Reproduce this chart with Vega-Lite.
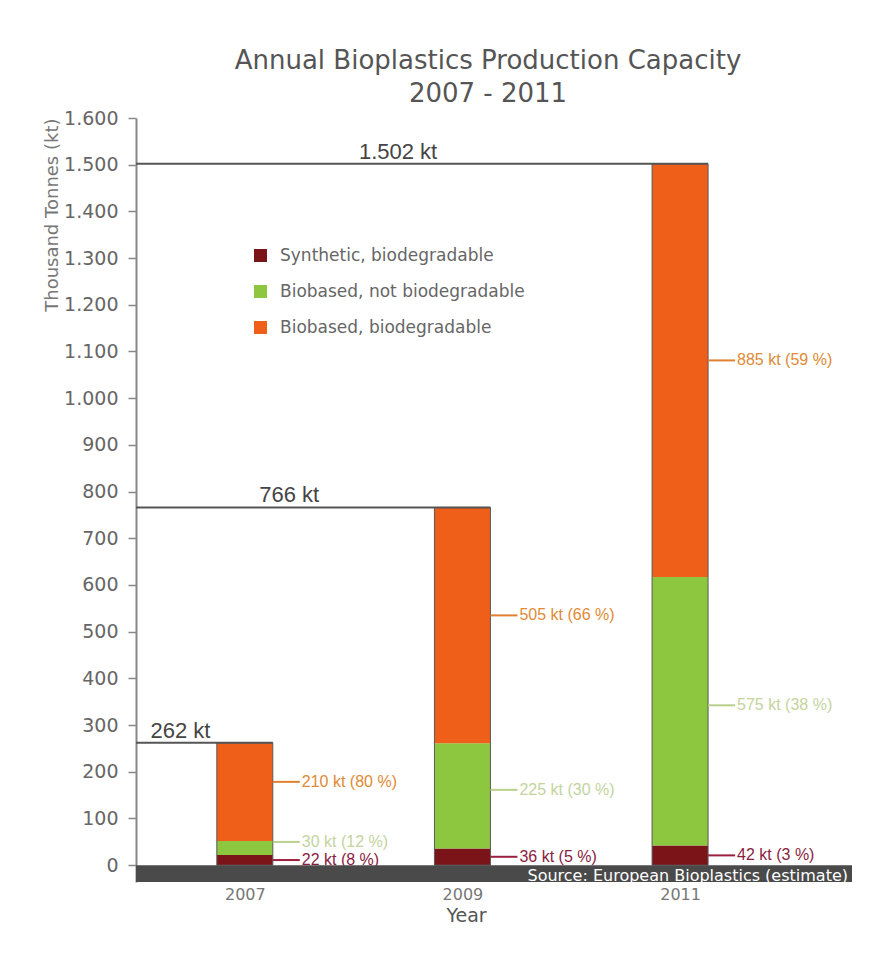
{
  "$schema": "https://vega.github.io/schema/vega-lite/v6.json",
  "width": 716,
  "height": 764,
  "autosize": {"type": "none"},
  "padding": {"left": 136, "top": 118, "right": 26, "bottom": 81},
  "background": "white",
  "title": {
    "text": ["Annual Bioplastics Production Capacity", "2007 - 2011"],
    "font": "DejaVu Sans",
    "fontSize": 26,
    "fontWeight": "normal",
    "color": "#555555",
    "lineHeight": 33,
    "anchor": "middle",
    "dx": -6,
    "offset": 2,
    "frame": "group"
  },
  "config": {
    "view": {"stroke": null},
    "legend": {
      "orient": "none",
      "legendX": 116,
      "legendY": 129,
      "symbolType": "square",
      "symbolSize": 169,
      "symbolStrokeWidth": 0,
      "labelFont": "DejaVu Sans",
      "labelFontSize": 17,
      "labelColor": "#666666",
      "labelOffset": 11,
      "labelLimit": 0,
      "rowPadding": 18,
      "padding": 0
    }
  },
  "datasets": {
    "segments": [
      {"year": 2007, "category": "Synthetic, biodegradable", "value": 22, "label": "22 kt (8 %)"},
      {"year": 2007, "category": "Biobased, not biodegradable", "value": 30, "label": "30 kt (12 %)"},
      {"year": 2007, "category": "Biobased, biodegradable", "value": 210, "label": "210 kt (80 %)"},
      {"year": 2009, "category": "Synthetic, biodegradable", "value": 36, "label": "36 kt (5 %)"},
      {"year": 2009, "category": "Biobased, not biodegradable", "value": 225, "label": "225 kt (30 %)"},
      {"year": 2009, "category": "Biobased, biodegradable", "value": 505, "label": "505 kt (66 %)"},
      {"year": 2011, "category": "Synthetic, biodegradable", "value": 42, "label": "42 kt (3 %)"},
      {"year": 2011, "category": "Biobased, not biodegradable", "value": 575, "label": "575 kt (38 %)"},
      {"year": 2011, "category": "Biobased, biodegradable", "value": 885, "label": "885 kt (59 %)"}
    ],
    "totals": [
      {"year": 2007, "total": 262, "label": "262 kt"},
      {"year": 2009, "total": 766, "label": "766 kt"},
      {"year": 2011, "total": 1502, "label": "1.502 kt"}
    ],
    "source": [
      {"text": "Source: European Bioplastics (estimate)"}
    ]
  },
  "layer": [
    {
      "data": {"name": "segments"},
      "transform": [
        {"stack": "value", "groupby": ["year"], "sort": [{"field": "category", "order": "descending"}], "as": ["y0", "y1"]}
      ],
      "mark": {"type": "bar", "size": 56},
      "encoding": {
        "x": {
          "field": "year",
          "type": "quantitative",
          "scale": {"domain": [2006, 2012.58], "nice": false, "zero": false, "padding": 0},
          "axis": {
            "title": "Year",
            "values": [2007, 2009, 2011],
            "format": "d",
            "grid": false,
            "domain": false,
            "ticks": false,
            "labelPadding": 4,
            "labelFont": "DejaVu Sans",
            "labelFontSize": 16,
            "labelColor": "#777777",
            "titleFont": "DejaVu Sans",
            "titleFontSize": 19,
            "titleFontWeight": "normal",
            "titleColor": "#555555",
            "titleX": 330,
            "titlePadding": 4
          }
        },
        "y": {
          "field": "y0",
          "type": "quantitative",
          "scale": {"domain": [-36, 1600], "nice": false, "zero": false, "padding": 0},
          "axis": {
            "title": "Thousand Tonnes (kt)",
            "values": [0, 100, 200, 300, 400, 500, 600, 700, 800, 900, 1000, 1100, 1200, 1300, 1400, 1500, 1600],
            "labelExpr": "replace(format(datum.value, ','), ',', '.')",
            "grid": false,
            "domainColor": "#888888",
            "domainWidth": 2,
            "tickColor": "#888888",
            "tickWidth": 1.5,
            "tickSize": 8,
            "labelPadding": 10,
            "labelFont": "DejaVu Sans",
            "labelFontSize": 19,
            "labelColor": "#666666",
            "titleFont": "DejaVu Sans",
            "titleFontSize": 18,
            "titleFontWeight": "normal",
            "titleColor": "#777777",
            "titleAnchor": "end",
            "titlePadding": 2
          }
        },
        "y2": {"field": "y1"},
        "color": {
          "field": "category",
          "type": "nominal",
          "scale": {
            "domain": ["Synthetic, biodegradable", "Biobased, not biodegradable", "Biobased, biodegradable"],
            "range": ["#7b1418", "#8dc63f", "#ef5f1a"]
          },
          "legend": {"title": null}
        }
      }
    },
    {
      "data": {"name": "totals"},
      "mark": {"type": "bar", "size": 56, "filled": false, "stroke": "#5a5a5a", "strokeWidth": 1},
      "encoding": {
        "x": {"field": "year", "type": "quantitative"},
        "y": {"field": "total", "type": "quantitative"},
        "y2": {"datum": 0}
      }
    },
    {
      "data": {"name": "totals"},
      "mark": {"type": "rule", "color": "#555555", "strokeWidth": 2, "xOffset": 28},
      "encoding": {
        "x": {"field": "year", "type": "quantitative"},
        "x2": {"datum": 2006},
        "y": {"field": "total", "type": "quantitative"}
      }
    },
    {
      "data": {"name": "totals"},
      "transform": [{"calculate": "(2006 + datum.year) / 2", "as": "mid"}],
      "mark": {"type": "text", "font": "Liberation Sans", "fontSize": 22, "color": "#444444", "baseline": "bottom", "dy": 0, "dx": -10, "align": "center"},
      "encoding": {
        "x": {"field": "mid", "type": "quantitative"},
        "y": {"field": "total", "type": "quantitative"},
        "text": {"field": "label"}
      }
    },
    {
      "data": {"name": "segments"},
      "transform": [
        {"stack": "value", "groupby": ["year"], "sort": [{"field": "category", "order": "descending"}], "as": ["y0", "y1"]},
        {"calculate": "(datum.y0 + datum.y1) / 2", "as": "mid"},
        {"filter": "datum.category === 'Biobased, biodegradable'"}
      ],
      "layer": [
        {
          "mark": {"type": "rule", "strokeWidth": 2, "xOffset": 28, "x2Offset": 55, "yOffset": -10, "y2Offset": -10, "color": "#df8130"},
          "encoding": {
            "x": {"field": "year", "type": "quantitative"},
            "x2": {"field": "year"},
            "y": {"field": "mid", "type": "quantitative"}
          }
        },
        {
          "mark": {"type": "text", "align": "left", "baseline": "middle", "dx": 57, "dy": -10, "font": "Liberation Sans", "fontSize": 16, "color": "#e08a35"},
          "encoding": {
            "x": {"field": "year", "type": "quantitative"},
            "y": {"field": "mid", "type": "quantitative"},
            "text": {"field": "label"}
          }
        }
      ]
    },
    {
      "data": {"name": "segments"},
      "transform": [
        {"stack": "value", "groupby": ["year"], "sort": [{"field": "category", "order": "descending"}], "as": ["y0", "y1"]},
        {"calculate": "(datum.y0 + datum.y1) / 2", "as": "mid"},
        {"filter": "datum.category === 'Biobased, not biodegradable'"}
      ],
      "layer": [
        {
          "mark": {"type": "rule", "strokeWidth": 2, "xOffset": 28, "x2Offset": 55, "yOffset": -6, "y2Offset": -6, "color": "#b9cf8c"},
          "encoding": {
            "x": {"field": "year", "type": "quantitative"},
            "x2": {"field": "year"},
            "y": {"field": "mid", "type": "quantitative"}
          }
        },
        {
          "mark": {"type": "text", "align": "left", "baseline": "middle", "dx": 57, "dy": -6, "font": "Liberation Sans", "fontSize": 16, "color": "#c3d49e"},
          "encoding": {
            "x": {"field": "year", "type": "quantitative"},
            "y": {"field": "mid", "type": "quantitative"},
            "text": {"field": "label"}
          }
        }
      ]
    },
    {
      "data": {"name": "segments"},
      "transform": [
        {"stack": "value", "groupby": ["year"], "sort": [{"field": "category", "order": "descending"}], "as": ["y0", "y1"]},
        {"calculate": "(datum.y0 + datum.y1) / 2", "as": "mid"},
        {"filter": "datum.category === 'Synthetic, biodegradable'"}
      ],
      "layer": [
        {
          "mark": {"type": "rule", "strokeWidth": 2, "xOffset": 28, "x2Offset": 55, "yOffset": 0, "y2Offset": 0, "color": "#9a1f3f"},
          "encoding": {
            "x": {"field": "year", "type": "quantitative"},
            "x2": {"field": "year"},
            "y": {"field": "mid", "type": "quantitative"}
          }
        },
        {
          "mark": {"type": "text", "align": "left", "baseline": "middle", "dx": 57, "dy": 0, "font": "Liberation Sans", "fontSize": 16, "color": "#8a1c42"},
          "encoding": {
            "x": {"field": "year", "type": "quantitative"},
            "y": {"field": "mid", "type": "quantitative"},
            "text": {"field": "label"}
          }
        }
      ]
    },
    {
      "data": {"name": "source"},
      "mark": {"type": "rect", "color": "#4a4a4a"},
      "encoding": {
        "x": {"datum": 2006, "type": "quantitative"},
        "x2": {"datum": 2012.58},
        "y": {"datum": 0, "type": "quantitative"},
        "y2": {"datum": -36}
      }
    },
    {
      "data": {"name": "source"},
      "mark": {"type": "text", "color": "white", "align": "right", "baseline": "middle", "dx": -4, "dy": 2, "font": "DejaVu Sans", "fontSize": 16},
      "encoding": {
        "x": {"datum": 2012.58, "type": "quantitative"},
        "y": {"datum": -18, "type": "quantitative"},
        "text": {"field": "text"}
      }
    }
  ]
}
